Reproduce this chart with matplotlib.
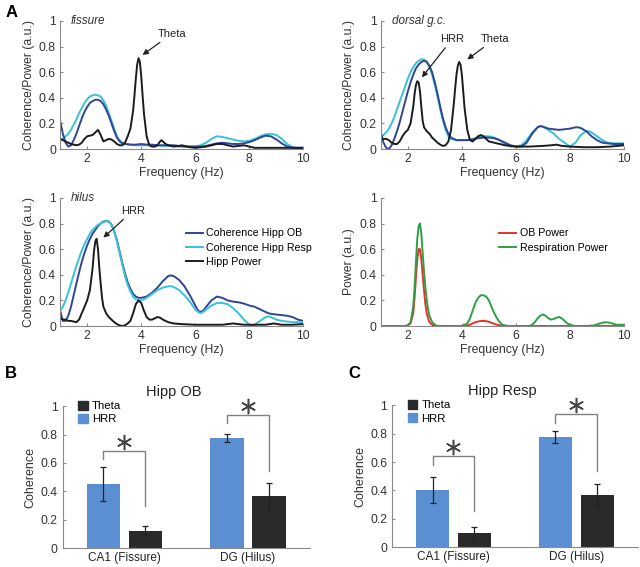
import matplotlib
matplotlib.use("Agg")
import matplotlib.pyplot as plt
from matplotlib.patches import Patch

plt.rcParams['font.family'] = ['Liberation Sans', 'DejaVu Sans']

# ---- panel A data ----
# fissure
fis_f = [1.0, 1.1, 1.2, 1.3, 1.4, 1.5, 1.6, 1.7, 1.8, 1.9, 2.0, 2.1, 2.2, 2.3, 2.4, 2.5, 2.6, 2.7, 2.8, 2.9,
         3.0, 3.1, 3.2, 3.3, 3.4, 3.6, 3.8, 4.0, 4.2, 4.4, 4.6, 4.8, 5.0, 5.2, 5.4, 5.6, 5.8, 6.0, 6.2, 6.4,
         6.6, 6.8, 7.0, 7.2, 7.4, 7.6, 7.8, 8.0, 8.2, 8.4, 8.6, 8.8, 9.0, 9.2, 9.4, 9.6, 9.8, 10.0]
fis_ob = [.22, .12, .05, .02, .03, .07, .12, .18, .24, .29, .33, .36, .375, .385, .385, .375, .35, .31, .26, .2,
          .14, .09, .06, .045, .04, .035, .035, .04, .035, .035, .03, .03, .03, .03, .025, .02, .02, .02, .02, .025,
          .035, .045, .05, .045, .04, .04, .045, .055, .07, .09, .105, .1, .075, .045, .02, .01, .01, .01]
fis_resp = [.07, .08, .1, .12, .15, .19, .23, .28, .32, .36, .39, .41, .42, .425, .42, .41, .38, .34, .28, .22,
            .16, .1, .07, .05, .04, .035, .03, .03, .03, .03, .03, .025, .025, .025, .02, .02, .02, .02, .03, .05,
            .08, .1, .095, .085, .075, .065, .06, .065, .08, .1, .115, .12, .11, .08, .04, .015, .01, .01]
fis_pf = [1.0, 1.1, 1.2, 1.3, 1.4, 1.5, 1.6, 1.7, 1.8, 1.9, 2.0, 2.1, 2.2, 2.3, 2.4, 2.5, 2.6, 2.7, 2.8, 2.9,
          3.0, 3.1, 3.2, 3.3, 3.4, 3.5, 3.6, 3.7, 3.75, 3.8, 3.85, 3.9, 3.95, 4.0, 4.05, 4.1, 4.2, 4.3, 4.4, 4.5,
          4.6, 4.7, 4.75, 4.8, 4.9, 5.0, 5.2, 5.4, 5.5, 5.6, 5.8, 6.0, 6.2, 6.4, 6.6, 6.8, 7.0, 7.2, 7.4, 7.6,
          7.8, 8.0, 8.2, 8.4, 8.6, 8.8, 9.0, 9.2, 9.4, 9.6, 9.8, 10.0]
fis_pow = [.08, .07, .06, .05, .04, .035, .03, .035, .05, .08, .1, .105, .11, .13, .15, .11, .06, .07, .08, .075,
           .06, .04, .03, .03, .05, .1, .16, .3, .42, .55, .66, .71, .68, .57, .42, .28, .1, .03, .02, .02,
           .03, .06, .07, .06, .04, .03, .02, .025, .03, .025, .015, .01, .015, .02, .03, .04, .04, .03, .02, .025,
           .03, .02, .01, .01, .01, .01, .01, .01, .01, .01, .01, .01]

# dorsal granule cell layer
dor_f = [1.0, 1.1, 1.2, 1.3, 1.4, 1.5, 1.6, 1.7, 1.8, 1.9, 2.0, 2.1, 2.2, 2.3, 2.4, 2.5, 2.6, 2.7, 2.8, 2.9,
         3.0, 3.1, 3.2, 3.3, 3.4, 3.5, 3.6, 3.8, 4.0, 4.2, 4.4, 4.6, 4.8, 5.0, 5.2, 5.4, 5.6, 5.8, 6.0, 6.2,
         6.4, 6.6, 6.8, 6.9, 7.0, 7.2, 7.4, 7.6, 7.8, 8.0, 8.2, 8.3, 8.4, 8.6, 8.7, 8.8, 9.0, 9.2, 9.4, 9.6,
         9.8, 10.0]
dor_ob = [.13, .05, .01, .0, .03, .08, .14, .21, .29, .37, .45, .52, .58, .63, .66, .68, .69, .68, .65, .6,
          .52, .43, .33, .24, .17, .12, .09, .07, .07, .07, .075, .085, .09, .09, .085, .07, .05, .03, .02, .02,
          .05, .12, .17, .18, .175, .16, .155, .15, .155, .16, .17, .17, .165, .14, .12, .1, .07, .05, .045, .04,
          .04, .04]
dor_resp = [.09, .11, .13, .16, .2, .25, .31, .37, .43, .49, .55, .6, .64, .67, .69, .7, .7, .68, .64, .58,
            .5, .41, .31, .22, .15, .1, .08, .07, .07, .07, .08, .09, .1, .1, .09, .07, .04, .02, .02, .03,
            .07, .13, .17, .18, .175, .15, .12, .08, .05, .02, .05, .08, .11, .14, .14, .13, .1, .07, .05, .045,
            .045, .045]
dor_pf = [1.0, 1.1, 1.2, 1.3, 1.4, 1.5, 1.6, 1.7, 1.8, 1.9, 2.0, 2.1, 2.2, 2.25, 2.3, 2.35, 2.4, 2.45, 2.5, 2.55,
          2.6, 2.7, 2.8, 2.9, 3.0, 3.1, 3.2, 3.3, 3.4, 3.5, 3.6, 3.7, 3.75, 3.8, 3.85, 3.9, 3.95, 4.0, 4.05, 4.1,
          4.2, 4.3, 4.4, 4.5, 4.6, 4.7, 4.8, 4.9, 5.0, 5.2, 5.4, 5.6, 5.8, 6.0, 6.5, 7.0, 7.3, 7.5, 7.7, 8.0,
          8.5, 9.0, 9.5, 10.0]
dor_pow = [.07, .08, .08, .07, .05, .04, .04, .06, .1, .13, .15, .2, .33, .43, .5, .53, .52, .45, .33, .22,
           .17, .14, .12, .09, .07, .05, .035, .025, .03, .06, .15, .35, .47, .58, .65, .68, .66, .58, .45, .32,
           .15, .07, .06, .08, .1, .11, .1, .08, .06, .05, .04, .03, .025, .02, .02, .025, .03, .035, .025, .02,
           .015, .015, .02, .03]

# hilus
hil_f = [1.0, 1.1, 1.2, 1.3, 1.4, 1.5, 1.6, 1.7, 1.8, 1.9, 2.0, 2.1, 2.2, 2.3, 2.4, 2.5, 2.6, 2.7, 2.8, 2.9,
         3.0, 3.1, 3.2, 3.3, 3.4, 3.5, 3.6, 3.7, 3.8, 3.9, 4.0, 4.2, 4.4, 4.6, 4.8, 5.0, 5.1, 5.2, 5.4, 5.6,
         5.8, 6.0, 6.1, 6.2, 6.3, 6.4, 6.6, 6.8, 7.0, 7.2, 7.4, 7.6, 7.8, 8.0, 8.1, 8.2, 8.4, 8.6, 8.7, 8.8,
         9.0, 9.2, 9.4, 9.6, 9.8, 10.0]
hil_ob = [.12, .04, .04, .08, .15, .24, .33, .42, .5, .57, .63, .68, .72, .75, .78, .8, .815, .82, .815, .79,
          .74, .67, .58, .49, .41, .34, .29, .25, .23, .22, .22, .23, .26, .3, .35, .39, .395, .39, .36, .31,
          .24, .16, .12, .11, .12, .15, .2, .23, .22, .2, .19, .185, .175, .16, .155, .15, .13, .11, .1, .095,
          .09, .085, .08, .07, .05, .04]
hil_resp = [.12, .15, .2, .26, .33, .4, .47, .53, .59, .64, .68, .72, .75, .77, .79, .8, .81, .82, .815, .79,
            .74, .66, .57, .48, .39, .32, .27, .23, .21, .2, .2, .22, .25, .28, .3, .31, .31, .305, .28, .24,
            .19, .13, .11, .1, .11, .13, .16, .18, .18, .17, .14, .1, .05, .01, .005, .01, .04, .07, .075, .07,
            .05, .04, .035, .03, .03, .03]
hil_pf = [1.0, 1.1, 1.2, 1.3, 1.4, 1.5, 1.6, 1.7, 1.8, 1.9, 2.0, 2.1, 2.2, 2.25, 2.3, 2.35, 2.4, 2.45, 2.5, 2.55,
          2.6, 2.7, 2.8, 2.9, 3.0, 3.1, 3.2, 3.3, 3.4, 3.5, 3.6, 3.7, 3.8, 3.9, 4.0, 4.1, 4.2, 4.3, 4.4, 4.5,
          4.6, 4.7, 4.8, 5.0, 5.2, 5.5, 6.0, 6.5, 7.0, 7.4, 7.8, 8.2, 8.6, 8.9, 9.2, 9.6, 10.0]
hil_pow = [.06, .05, .05, .04, .04, .035, .03, .05, .1, .15, .2, .28, .45, .58, .66, .68, .6, .45, .33, .22,
           .15, .1, .07, .05, .03, .015, .005, .0, .005, .02, .04, .1, .17, .2, .18, .12, .07, .05, .05, .06,
           .07, .065, .05, .03, .02, .015, .01, .01, .01, .02, .01, .01, .01, .02, .01, .01, .015]

# OB / respiration power
pw_f = [1.0, 1.5, 1.8, 1.9, 2.0, 2.1, 2.2, 2.25, 2.3, 2.35, 2.4, 2.45, 2.5, 2.55, 2.6, 2.65, 2.7, 2.75, 2.8, 2.9,
        3.0, 3.1, 3.5, 4.0, 4.2, 4.3, 4.4, 4.5, 4.6, 4.7, 4.8, 4.9, 5.0, 5.1, 5.2, 5.3, 5.4, 5.5, 5.7, 6.0,
        6.5, 6.6, 6.7, 6.8, 6.9, 7.0, 7.1, 7.2, 7.3, 7.4, 7.5, 7.6, 7.7, 7.8, 7.9, 8.0, 8.2, 8.6, 8.9, 9.1,
        9.3, 9.5, 9.7, 10.0]
ob_pow = [.0, .0, .0, .0, .005, .02, .1, .22, .38, .52, .6, .6, .52, .4, .28, .17, .1, .06, .03, .01,
          .0, .0, .0, .0, .005, .01, .02, .03, .035, .04, .04, .038, .033, .025, .017, .01, .005, .002, .0, .0,
          .0, .0, .0, .0, .0, .0, .0, .0, .0, .0, .0, .0, .0, .0, .0, .0, .0, .0, .0, .0,
          .0, .0, .0, .0]
resp_pow = [.0, .0, .0, .0, .005, .03, .15, .3, .5, .68, .78, .8, .72, .57, .42, .3, .2, .13, .08, .03,
            .01, .0, .0, .0, .02, .06, .12, .18, .22, .24, .24, .23, .2, .15, .1, .06, .03, .01, .0, .0,
            .0, .01, .03, .06, .08, .09, .08, .06, .05, .055, .065, .07, .06, .04, .02, .01, .0, .0, .005, .02,
            .03, .025, .01, .01]

# ---- panels B, C data ----
groups = ["CA1 (Fissure)", "DG (Hilus)"]
ob_hrr = [0.45, 0.777]
ob_hrr_err = [0.118, 0.03]
ob_theta = [0.122, 0.366]
ob_theta_err = [0.031, 0.096]
rs_hrr = [0.403, 0.776]
rs_hrr_err = [0.095, 0.042]
rs_theta = [0.103, 0.368]
rs_theta_err = [0.042, 0.079]

C_OB = "#2f4596"
C_RESP = "#35c3d5"
C_POW = "#1c1c1c"
C_RED = "#e8302c"
C_GREEN = "#2ea043"
C_HRR = "#5b8fd2"
C_THETA = "#2a2a2a"
GRAY = "#8a8a8a"
TXT = "#333333"
LW = 1.4

fig = plt.figure(figsize=(6.4, 5.67), dpi=100)


def style_line_ax(ax, ylabel):
    ax.set_xlim(1, 10)
    ax.set_ylim(0, 1)
    ax.set_xticks([2, 4, 6, 8, 10])
    ax.set_yticks([0, 0.2, 0.4, 0.6, 0.8, 1])
    ax.set_yticklabels(["0", "0.2", "0.4", "0.6", "0.8", "1"])
    for s in ["top", "right"]:
        ax.spines[s].set_visible(False)
    for s in ["left", "bottom"]:
        ax.spines[s].set_color(GRAY)
    ax.tick_params(direction="in", length=2.5, color=GRAY, labelsize=8.8, pad=3, labelcolor=TXT)
    ax.set_xlabel("Frequency (Hz)", fontsize=8.8, color=TXT, labelpad=1)
    ax.set_ylabel(ylabel, fontsize=8.8, color=TXT, labelpad=3)


def arrow(ax, label, tip, txt):
    ax.annotate(label, xy=tip, xytext=txt, fontsize=8, ha="left", va="center", color="#222222",
                arrowprops=dict(arrowstyle="-|>", color="#222222", lw=0.9, mutation_scale=8,
                                shrinkA=1, shrinkB=0))


w = 0.380
h = 0.226
a1 = fig.add_axes([0.094, 0.737, w, h])
a1.plot(fis_f, fis_resp, color=C_RESP, lw=LW)
a1.plot(fis_f, fis_ob, color=C_OB, lw=LW)
a1.plot(fis_pf, fis_pow, color=C_POW, lw=LW)
style_line_ax(a1, "Coherence/Power (a.u.)")
a1.text(1.37, 1.0, "fissure", style="italic", fontsize=8.5, va="center", color=TXT)
arrow(a1, "Theta", (4.05, 0.735), (4.6, 0.9))

a2 = fig.add_axes([0.595, 0.737, w, h])
a2.plot(dor_f, dor_resp, color=C_RESP, lw=LW)
a2.plot(dor_f, dor_ob, color=C_OB, lw=LW)
a2.plot(dor_pf, dor_pow, color=C_POW, lw=LW)
style_line_ax(a2, "Coherence/Power (a.u.)")
a2.text(1.4, 1.0, "dorsal g.c.", style="italic", fontsize=8.5, va="center", color=TXT)
arrow(a2, "HRR", (2.52, 0.56), (3.2, 0.86))
arrow(a2, "Theta", (4.2, 0.7), (4.7, 0.86))

a3 = fig.add_axes([0.094, 0.425, w, h])
a3.plot(hil_f, hil_ob, color=C_OB, lw=LW, label="Coherence Hipp OB")
a3.plot(hil_f, hil_resp, color=C_RESP, lw=LW, label="Coherence Hipp Resp")
a3.plot(hil_pf, hil_pow, color=C_POW, lw=LW, label="Hipp Power")
style_line_ax(a3, "Coherence/Power (a.u.)")
a3.text(1.4, 1.0, "hilus", style="italic", fontsize=8.5, va="center", color=TXT)
arrow(a3, "HRR", (2.6, 0.69), (3.25, 0.9))
a3.legend(loc="upper left", bbox_to_anchor=(0.5, 0.795), frameon=False, fontsize=7.7,
          handlelength=1.6, handletextpad=0.3, labelspacing=0.4, borderaxespad=0)

a4 = fig.add_axes([0.595, 0.425, w, h])
a4.plot(pw_f, ob_pow, color=C_RED, lw=LW, label="OB Power")
a4.plot(pw_f, resp_pow, color=C_GREEN, lw=LW, label="Respiration Power")
style_line_ax(a4, "Power (a.u.)")
a4.legend(loc="upper left", bbox_to_anchor=(0.47, 0.795), frameon=False, fontsize=7.7,
          handlelength=1.6, handletextpad=0.3, labelspacing=0.4, borderaxespad=0)


def bar_panel(rect, title, hrr, hrr_err, theta, theta_err, brackets):
    ax = fig.add_axes(rect)
    pos = [1, 2]
    off = 0.17
    bw = 0.27
    ek = dict(ecolor="#222222", elinewidth=0.9, capsize=2, capthick=0.9)
    ax.bar([p - off for p in pos], hrr, bw, yerr=hrr_err, color=C_HRR, error_kw=ek, zorder=2)
    ax.bar([p + off for p in pos], theta, bw, yerr=theta_err, color=C_THETA, error_kw=ek, zorder=2)
    ax.set_xlim(0.5, 2.5)
    ax.set_ylim(0, 1)
    ax.set_xticks(pos)
    ax.set_xticklabels(groups)
    ax.set_yticks([0, 0.2, 0.4, 0.6, 0.8, 1])
    ax.set_yticklabels(["0", "0.2", "0.4", "0.6", "0.8", "1"])
    for s in ["top", "right"]:
        ax.spines[s].set_visible(False)
    for s in ["left", "bottom"]:
        ax.spines[s].set_color(GRAY)
    ax.tick_params(axis="y", direction="in", length=2.5, color=GRAY, labelsize=8.8, labelcolor=TXT)
    ax.tick_params(axis="x", length=0, labelsize=8.5, pad=3, labelcolor="#222222")
    ax.set_ylabel("Coherence", fontsize=9, color=TXT, labelpad=3)
    ax.text(0.45, 1.1, title, transform=ax.transAxes, ha="center", va="center", fontsize=10.5,
            color="#222222")
    for p, (top, lb, rb) in zip(pos, brackets):
        ax.plot([p - off, p - off, p + off, p + off], [lb, top, top, rb], color="#808080", lw=1)
        ax.plot([p], [top + 0.065], marker=(6, 2, 0), markersize=11, mew=1.1, color="#444444",
                clip_on=False)
    ax.legend(handles=[Patch(color=C_THETA, label="Theta"), Patch(color=C_HRR, label="HRR")],
              loc="upper left", bbox_to_anchor=(0.045, 1.07), frameon=False, fontsize=8.2,
              handlelength=0.8, handleheight=0.8, handletextpad=0.4, labelspacing=0.25, borderaxespad=0)
    return ax


bar_panel([0.098, 0.0335, 0.386, 0.25], "Hipp OB", ob_hrr, ob_hrr_err, ob_theta, ob_theta_err,
          [(0.683, 0.629, 0.296), (0.94, 0.88, 0.54)])
bar_panel([0.6125, 0.035, 0.384, 0.25], "Hipp Resp", rs_hrr, rs_hrr_err, rs_theta, rs_theta_err,
          [(0.644, 0.578, 0.255), (0.94, 0.876, 0.54)])

fig.text(0.008, 0.978, "A", fontsize=12, fontweight="bold", va="center")
fig.text(0.008, 0.342, "B", fontsize=12, fontweight="bold", va="center")
fig.text(0.545, 0.342, "C", fontsize=12, fontweight="bold", va="center")

fig.savefig("out.png", dpi=100)
